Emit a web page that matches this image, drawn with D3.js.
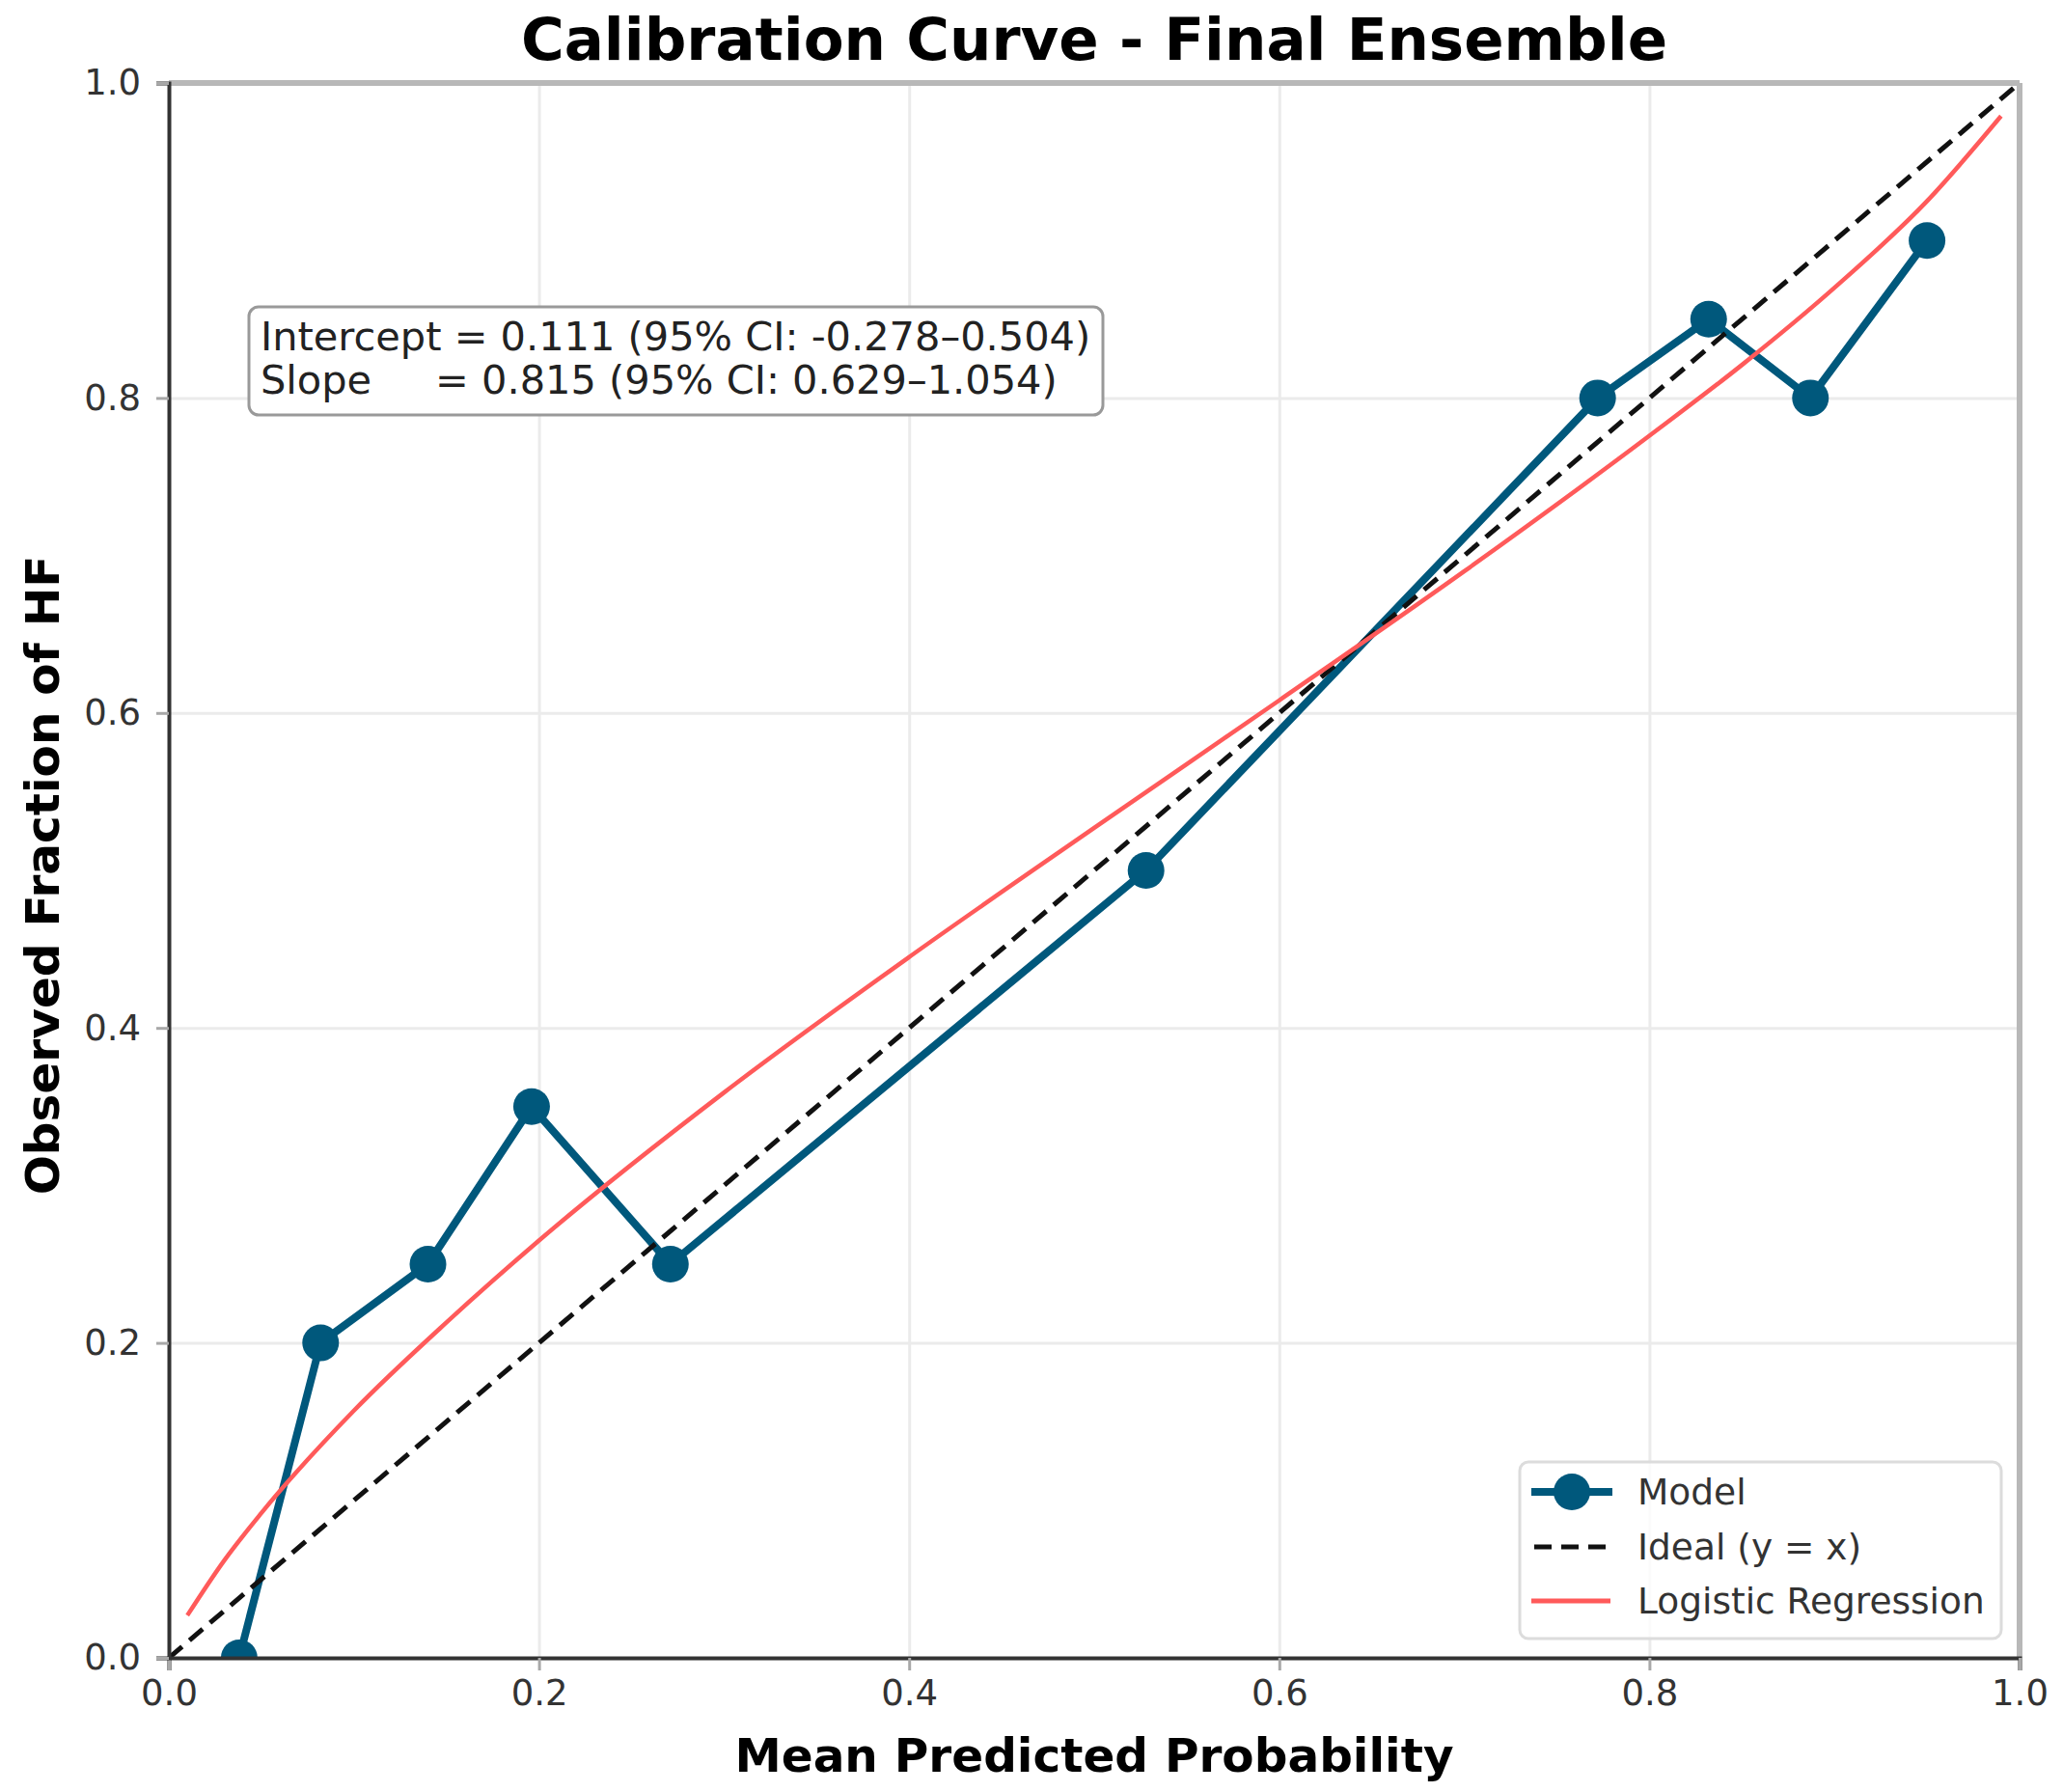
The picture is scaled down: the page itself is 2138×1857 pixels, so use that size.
<!DOCTYPE html>
<html>
<head>
<meta charset="utf-8">
<script src="https://cdn.jsdelivr.net/npm/d3@7"></script>
<style>
    body { margin: 0; background: #fff; }
    text { font-family: "DejaVu Sans", sans-serif; }
</style>
</head>
<body>
<div id="chart"></div>
<script>
// calibration bins of the model (mean predicted, observed fraction)
let modelX = [0.038, 0.082, 0.140, 0.196, 0.271, 0.528, 0.772, 0.832, 0.887, 0.950];
let modelY = [0.00, 0.20, 0.25, 0.35, 0.25, 0.50, 0.80, 0.85, 0.80, 0.90];

// logistic recalibration curve
let logitX = [0.01, 0.03, 0.05, 0.10, 0.15, 0.20, 0.30, 0.40, 0.50, 0.60, 0.70, 0.80, 0.85, 0.90, 0.95, 0.99];
let logitY = [0.027, 0.062, 0.092, 0.157, 0.213, 0.265, 0.359, 0.445, 0.527, 0.608, 0.690, 0.776, 0.821, 0.870, 0.925, 0.979];

// ideal diagonal
let idealX = [0, 1];
let idealY = [0, 1];

let tickValues = [0.0, 0.2, 0.4, 0.6, 0.8, 1.0];
let legendLabels = ["Model", "Ideal (y = x)", "Logistic Regression"];
let annotationLines = [
    "Intercept = 0.111 (95% CI: -0.278\u20130.504)",
    "Slope     = 0.815 (95% CI: 0.629\u20131.054)"
];

(function() {
    let w = 2138;
    let h = 1857;
    let left = 175, right = 2093, top = 86, bottom = 1718;

    let svg = d3.select("#chart")
        .append("svg")
        .attr("width", w)
        .attr("height", h);

    let x = d3.scaleLinear().domain([0, 1]).range([left, right]);
    let y = d3.scaleLinear().domain([0, 1]).range([bottom, top]);

    let blue = "#00587c";
    let red = "#ff5a5a";

    // grid
    svg.append("g")
        .attr("transform", "translate(0," + bottom + ")")
        .call(d3.axisBottom(x).tickValues(tickValues).tickSize(-(bottom - top)).tickFormat(""))
        .call(g => g.select(".domain").remove())
        .call(g => g.selectAll("line").attr("stroke", "#ebebeb").attr("stroke-width", 3));
    svg.append("g")
        .attr("transform", "translate(" + left + ",0)")
        .call(d3.axisLeft(y).tickValues(tickValues).tickSize(-(right - left)).tickFormat(""))
        .call(g => g.select(".domain").remove())
        .call(g => g.selectAll("line").attr("stroke", "#ebebeb").attr("stroke-width", 3));

    svg.append("clipPath")
        .attr("id", "plotClip")
        .append("rect")
        .attr("x", left).attr("y", top)
        .attr("width", right - left).attr("height", bottom - top);

    let plot = svg.append("g").attr("clip-path", "url(#plotClip)");

    let line = d3.line().x(d => x(d[0])).y(d => y(d[1]));

    let modelPts = modelX.map((v, i) => [v, modelY[i]]);
    plot.append("path")
        .datum(modelPts)
        .attr("d", line)
        .attr("fill", "none")
        .attr("stroke", blue)
        .attr("stroke-width", 8)
        .attr("stroke-linejoin", "round");
    plot.selectAll("circle.model")
        .data(modelPts)
        .enter()
        .append("circle")
        .attr("class", "model")
        .attr("cx", d => x(d[0]))
        .attr("cy", d => y(d[1]))
        .attr("r", 19)
        .attr("fill", blue);

    plot.append("path")
        .datum(idealX.map((v, i) => [v, idealY[i]]))
        .attr("d", line)
        .attr("fill", "none")
        .attr("stroke", "#111")
        .attr("stroke-width", 5)
        .attr("stroke-dasharray", "18,10");

    plot.append("path")
        .datum(logitX.map((v, i) => [v, logitY[i]]))
        .attr("d", line.curve(d3.curveMonotoneX))
        .attr("fill", "none")
        .attr("stroke", red)
        .attr("stroke-width", 4.5);

    // spines
    svg.append("line").attr("x1", left).attr("x2", right).attr("y1", top).attr("y2", top)
        .attr("stroke", "#b8b8b8").attr("stroke-width", 6);
    svg.append("line").attr("x1", right).attr("x2", right).attr("y1", top).attr("y2", bottom)
        .attr("stroke", "#b8b8b8").attr("stroke-width", 6);

    // axes
    let xAxis = svg.append("g")
        .attr("transform", "translate(0," + bottom + ")")
        .call(d3.axisBottom(x).tickValues(tickValues).tickSize(13).tickPadding(10).tickFormat(d3.format(".1f")));
    let yAxis = svg.append("g")
        .attr("transform", "translate(" + left + ",0)")
        .call(d3.axisLeft(y).tickValues(tickValues).tickSize(13).tickPadding(16).tickFormat(d3.format(".1f")));
    [xAxis, yAxis].forEach(a => {
        a.select(".domain").attr("stroke", "#333").attr("stroke-width", 4);
        a.selectAll(".tick line").attr("stroke", "#a8a8a8").attr("stroke-width", 3);
        a.selectAll(".tick text")
            .attr("fill", "#333")
            .style("font-size", "37px")
            .style("font-family", "DejaVu Sans");
    });

    // annotation box
    let ann = svg.append("g");
    ann.append("rect")
        .attr("x", 258).attr("y", 318)
        .attr("width", 885).attr("height", 112)
        .attr("rx", 10)
        .attr("fill", "#fff")
        .attr("stroke", "#999")
        .attr("stroke-width", 3);
    ann.selectAll("text")
        .data(annotationLines)
        .enter()
        .append("text")
        .attr("x", 270)
        .attr("y", (d, i) => 363 + i * 45)
        .attr("fill", "#222")
        .style("font-size", "41.5px")
        .style("white-space", "pre")
        .text(d => d);

    // legend
    let lg = svg.append("g");
    lg.append("rect")
        .attr("x", 1575).attr("y", 1515)
        .attr("width", 499).attr("height", 183)
        .attr("rx", 9)
        .attr("fill", "#fff")
        .attr("fill-opacity", 0.8)
        .attr("stroke", "#dcdcdc")
        .attr("stroke-width", 3);
    let rowY = [1546, 1603, 1659];
    lg.append("line").attr("x1", 1587).attr("x2", 1671).attr("y1", rowY[0]).attr("y2", rowY[0])
        .attr("stroke", blue).attr("stroke-width", 8);
    lg.append("circle").attr("cx", 1629).attr("cy", rowY[0]).attr("r", 19).attr("fill", blue);
    lg.append("line").attr("x1", 1590).attr("x2", 1664).attr("y1", rowY[1]).attr("y2", rowY[1])
        .attr("stroke", "#111").attr("stroke-width", 5).attr("stroke-dasharray", "18,10");
    lg.append("line").attr("x1", 1587).attr("x2", 1669).attr("y1", rowY[2]).attr("y2", rowY[2])
        .attr("stroke", red).attr("stroke-width", 5);
    lg.selectAll("text")
        .data(legendLabels)
        .enter()
        .append("text")
        .attr("x", 1697)
        .attr("y", (d, i) => rowY[i])
        .attr("dy", "0.35em")
        .attr("fill", "#333")
        .style("font-size", "37.5px")
        .text(d => d);

    // titles
    svg.append("text")
        .attr("x", (left + right) / 2)
        .attr("y", 62)
        .attr("text-anchor", "middle")
        .style("font-size", "61px")
        .style("font-weight", "bold")
        .text("Calibration Curve - Final Ensemble");
    svg.append("text")
        .attr("x", (left + right) / 2)
        .attr("y", 1836)
        .attr("text-anchor", "middle")
        .style("font-size", "48.5px")
        .style("font-weight", "bold")
        .text("Mean Predicted Probability");
    svg.append("text")
        .attr("transform", "translate(61," + ((top + bottom) / 2 + 5) + ") rotate(-90)")
        .attr("text-anchor", "middle")
        .style("font-size", "48.5px")
        .style("font-weight", "bold")
        .text("Observed Fraction of HF");
})();
</script>
</body>
</html>
